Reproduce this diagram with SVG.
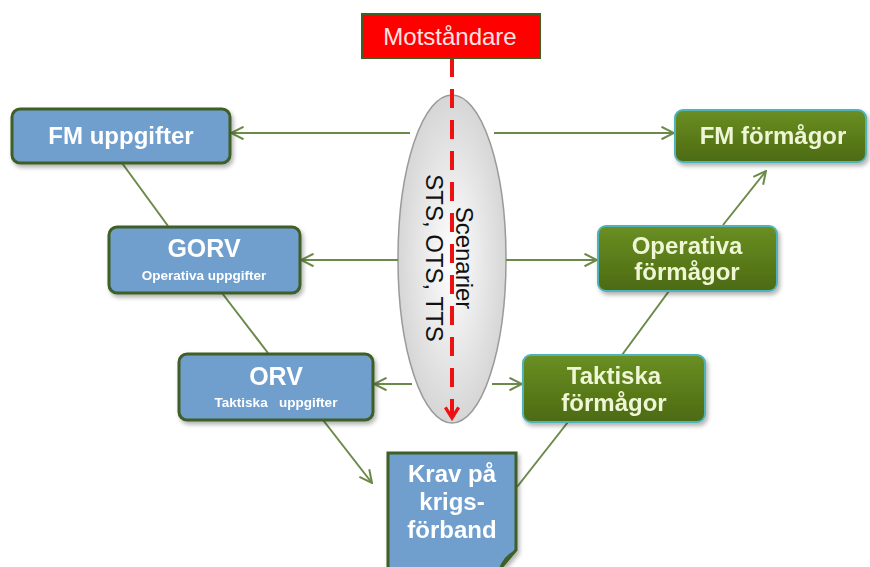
<svg xmlns="http://www.w3.org/2000/svg" width="870" height="567" viewBox="0 0 870 567">
<defs>
  <linearGradient id="gGreen" x1="0" y1="0" x2="0" y2="1">
    <stop offset="0" stop-color="#6a8f22"/>
    <stop offset="1" stop-color="#4c6a12"/>
  </linearGradient>
  <radialGradient id="gEll" cx="0.5" cy="0.5" r="0.5">
    <stop offset="0" stop-color="#ffffff"/>
    <stop offset="1" stop-color="#d6d6d6"/>
  </radialGradient>
  <filter id="sh" x="-10%" y="-10%" width="130%" height="140%">
    <feDropShadow dx="2" dy="3" stdDeviation="2" flood-color="#000" flood-opacity="0.3"/>
  </filter>
  <marker id="ah" viewBox="0 0 12 12" refX="11" refY="6" markerWidth="15" markerHeight="15" markerUnits="userSpaceOnUse" orient="auto">
    <path d="M1,1 L11,6 L1,11" fill="none" stroke="#6b8a4a" stroke-width="1.6"/>
  </marker>
  <marker id="ahRed" viewBox="0 0 12 12" refX="10" refY="6" markerWidth="16" markerHeight="16" markerUnits="userSpaceOnUse" orient="auto">
    <path d="M2,1 L10,6 L2,11" fill="none" stroke="#ee1111" stroke-width="2.5"/>
  </marker>
</defs>
<style>
  .blue { fill:#6f9fce; stroke:#3f5f25; stroke-width:3; }
  .green { fill:url(#gGreen); stroke:#4fb3b8; stroke-width:2; }
  .tb { font-family:"Liberation Sans", Arial, sans-serif; font-weight:bold; text-anchor:middle; fill:#ffffff; }
  .tg { font-family:"Liberation Sans", Arial, sans-serif; font-weight:bold; text-anchor:middle; fill:#eef6d6; }
  .con { stroke:#6b8a4a; stroke-width:2; fill:none; }
</style>

<g id="scenarier">
  <ellipse cx="452" cy="259" rx="54" ry="164" fill="url(#gEll)" stroke="#9a9a9a" stroke-width="1.5"/>
  <g font-family="'Liberation Sans', Arial, sans-serif" font-size="24" fill="#111" text-anchor="middle">
    <text transform="translate(456,258) rotate(90)">Scenarier</text>
    <text transform="translate(426,258) rotate(90)">STS, OTS, TTS</text>
  </g>
</g>

<g id="connectors">
  <line class="con" x1="410" y1="133" x2="231" y2="133" marker-end="url(#ah)"/>
  <line class="con" x1="494" y1="133" x2="674" y2="133" marker-end="url(#ah)"/>
  <line class="con" x1="398" y1="260" x2="301" y2="260" marker-end="url(#ah)"/>
  <line class="con" x1="506" y1="260" x2="597" y2="260" marker-end="url(#ah)"/>
  <line class="con" x1="412" y1="384" x2="374" y2="384" marker-end="url(#ah)"/>
  <line class="con" x1="492" y1="384" x2="522" y2="384" marker-end="url(#ah)"/>
  <line class="con" x1="122" y1="163" x2="168" y2="226"/>
  <line class="con" x1="222" y1="293" x2="268" y2="353"/>
  <line class="con" x1="323" y1="420" x2="372" y2="483" marker-end="url(#ah)"/>
  <line class="con" x1="517" y1="487" x2="568" y2="422"/>
  <line class="con" x1="622" y1="355" x2="669" y2="291"/>
  <line class="con" x1="723" y1="225" x2="766" y2="171" marker-end="url(#ah)"/>
  <line x1="452" y1="58" x2="452" y2="418" stroke="#ee1111" stroke-width="4" stroke-dasharray="19,12" marker-end="url(#ahRed)"/>
</g>

<g id="motstandare">
  <rect x="362" y="14" width="178" height="44" fill="#ff0000" stroke="#3f5f25" stroke-width="2"/>
  <text x="450" y="45" font-family="'Liberation Sans', Arial, sans-serif" font-size="24" text-anchor="middle" fill="#ffe4e4">Motståndare</text>
</g>

<g id="fm-uppgifter" filter="url(#sh)">
  <rect class="blue" x="12" y="109" width="218" height="54" rx="8"/>
  <text class="tb" x="121" y="144" font-size="24">FM uppgifter</text>
</g>

<g id="gorv" filter="url(#sh)">
  <rect class="blue" x="109" y="227" width="191" height="66" rx="8"/>
  <text class="tb" x="204" y="257" font-size="25">GORV</text>
  <text class="tb" x="204" y="280" font-size="13.5">Operativa uppgifter</text>
</g>

<g id="orv" filter="url(#sh)">
  <rect class="blue" x="179" y="354" width="194" height="66" rx="8"/>
  <text class="tb" x="276" y="385" font-size="25">ORV</text>
  <text class="tb" x="276" y="407" font-size="13.5" xml:space="preserve">Taktiska   uppgifter</text>
</g>

<g id="krav" filter="url(#sh)">
  <path class="blue" d="M388,453 H516 V550 L499,570 H388 Z"/>
  <path d="M499,570 Q502,556 516,550 Q506,558 499,570 Z" fill="#3f5f25"/>
  <text class="tb" x="452" y="482" font-size="24">Krav på</text>
  <text class="tb" x="452" y="510" font-size="24">krigs-</text>
  <text class="tb" x="452" y="538" font-size="24">förband</text>
</g>

<g id="fm-formagor" filter="url(#sh)">
  <rect class="green" x="675" y="110" width="191" height="52" rx="8"/>
  <text class="tg" x="773" y="144" font-size="24">FM förmågor</text>
</g>

<g id="operativa-formagor" filter="url(#sh)">
  <rect class="green" x="598" y="226" width="179" height="65" rx="8"/>
  <text class="tg" x="687" y="254" font-size="24">Operativa</text>
  <text class="tg" x="687" y="280" font-size="24">förmågor</text>
</g>

<g id="taktiska-formagor" filter="url(#sh)">
  <rect class="green" x="523" y="355" width="182" height="67" rx="8"/>
  <text class="tg" x="614" y="384" font-size="24">Taktiska</text>
  <text class="tg" x="614" y="411" font-size="24">förmågor</text>
</g>
</svg>
